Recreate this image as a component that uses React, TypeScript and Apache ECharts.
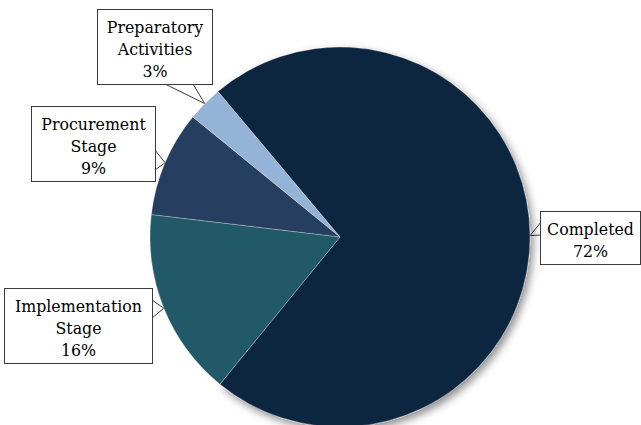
import React, { useEffect, useRef } from "react";
import * as echarts from "echarts";

const categories = ["Completed", "Implementation Stage", "Procurement Stage", "Preparatory Activities"];
const labelNames = ["Completed", "Implementation\nStage", "Procurement\nStage", "Preparatory\nActivities"];
const values = [72, 16, 9, 3];
const colors = ["#112540", "#215968", "#263f60", "#95b3d7"];

// label callout boxes (layout only)
const labelBoxes = [
  { left: 541, top: 212, w: 99, h: 52, side: "left", a: 10, b: 23 },
  { left: 5, top: 289, w: 147, h: 74, side: "right", a: 11, b: 29 },
  { left: 32, top: 107, w: 123, h: 74, side: "right", a: 43, b: 63 },
  { left: 98, top: 10, w: 114, h: 74, side: "bottom", a: 67, b: 95 },
];

export default function App() {
  const ref = useRef<HTMLDivElement>(null);
  useEffect(() => {
    if (!ref.current) return;
    const chart = echarts.init(ref.current, null, { renderer: "svg" });
    const cx = 340, cy = 237, r = 190;
    chart.setOption({
      animation: false,
      backgroundColor: "#ffffff",
      series: [
        {
          type: "pie",
          center: [cx, cy],
          radius: r,
          startAngle: 130,
          clockwise: true,
          avoidLabelOverlap: false,
          itemStyle: { borderColor: "rgba(255,255,255,0.45)", borderWidth: 0.6 },
          label: {
            show: true,
            position: "outside",
            fontFamily: "DejaVu Serif",
            fontSize: 15.8,
            color: "#000000",
            lineHeight: 22,
            align: "center",
            backgroundColor: "#ffffff",
            borderColor: "#3a3a3a",
            borderWidth: 1,
            padding: [6, 0, 2, 0],
            formatter: (p: any) => `${labelNames[p.dataIndex]}\n${p.value}%`,
          },
          labelLine: { show: true, lineStyle: { color: "#3a3a3a", width: 1 } },
          labelLayout: (p: any) => {
            const b = labelBoxes[p.dataIndex];
            let tip: number[];
            if (p.labelLinePoints && p.labelLinePoints[0]) {
              tip = p.labelLinePoints[0];
            } else {
              tip = [cx, cy];
            }
            let A: number[], B: number[];
            if (b.side === "left") {
              A = [b.left, b.top + b.a];
              B = [b.left, b.top + b.b];
            } else if (b.side === "right") {
              A = [b.left + b.w, b.top + b.a];
              B = [b.left + b.w, b.top + b.b];
            } else {
              A = [b.left + b.a, b.top + b.h];
              B = [b.left + b.b, b.top + b.h];
            }
            return {
              x: b.left + b.w / 2,
              y: b.top,
              align: "center",
              verticalAlign: "top",
              labelLinePoints: [A, tip, B],
            };
          },
          data: categories.map((name, i) => ({
            name,
            value: values[i],
            itemStyle:
              i === 0
                ? {
                    color: colors[i],
                    shadowColor: "rgba(0,0,0,0.45)",
                    shadowBlur: 8,
                    shadowOffsetX: 3,
                    shadowOffsetY: 4,
                  }
                : { color: colors[i] },
            label: { width: labelBoxes[i].w },
          })),
        },
      ],
    });
    return () => chart.dispose();
  }, []);
  return (
    <div
      ref={ref}
      style={{ position: "fixed", left: 0, top: 0, width: 641, height: 425 }}
    />
  );
}
